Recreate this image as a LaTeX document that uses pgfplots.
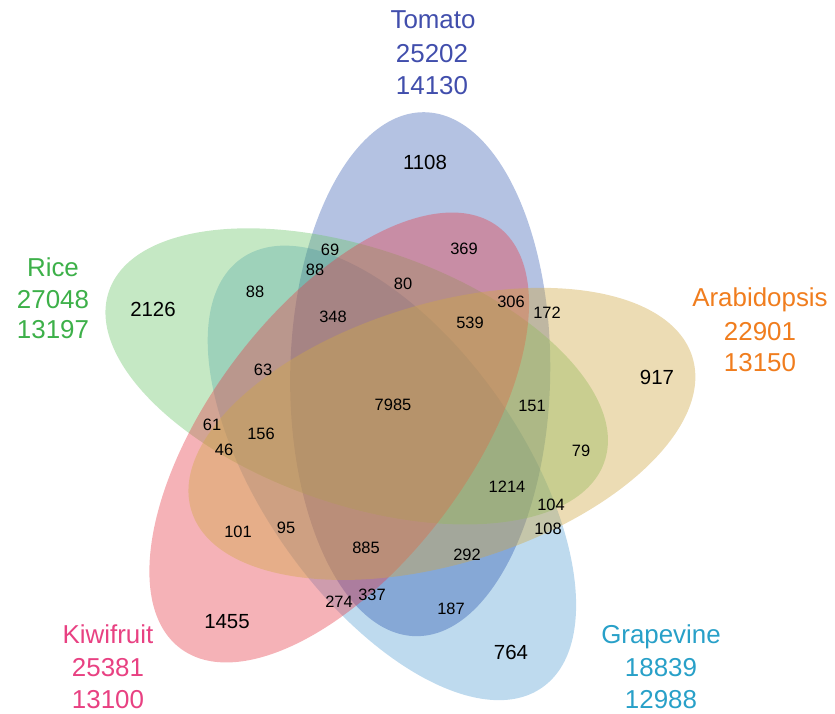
\documentclass[border=0pt]{standalone}
\usepackage{fontspec}
\setmainfont{Liberation Sans}
\usepackage{pgfplots}
\pgfplotsset{compat=1.18}
\usepackage{pgfplotstable}
\definecolor{cT}{RGB}{5,52,158}
\definecolor{cR}{RGB}{110,198,108}
\definecolor{cA}{RGB}{208,168,68}
\definecolor{cK}{RGB}{230,63,75}
\definecolor{cG}{RGB}{93,163,213}
\definecolor{tT}{RGB}{65,78,172}
\definecolor{tR}{RGB}{61,176,73}
\definecolor{tA}{RGB}{240,125,30}
\definecolor{tK}{RGB}{232,65,130}
\definecolor{tG}{RGB}{40,160,200}
\pgfplotstableread{
x y label
464 465 369
330 464 69
315 444 88
255 422 88
403 430 80
333 397 348
511 412 306
547 401 172
470 391 539
263 344 63
393 309 7985
532 308 151
212 289 61
261 280 156
224 264 46
581 263 79
507 227 1214
551 209 104
548 185 108
238 182 101
286 186 95
366 166 885
467 159 292
339 112 274
372 119 337
451 105 187
}\smallnums
\pgfplotstableread{
x y label
425 552 1108
153 405 2126
657 337 917
227 92 1455
511 62 764
}\bignums
\begin{document}
\begin{tikzpicture}
\begin{axis}[scale only axis, width=835bp, height=714bp,
  xmin=0, xmax=835, ymin=0, ymax=714, hide axis, clip=false]
\coordinate (SW) at (axis cs:0,0);
\coordinate (NE) at (axis cs:835,714);
% Grapevine
\fill[cG, fill opacity=0.4, rotate around={-55:(axis cs:391.9,241.1)}] (axis cs:391.9,241.1) ellipse [x radius=262bp, y radius=130bp];
% Tomato
\fill[cT, fill opacity=0.3, rotate around={89:(axis cs:420.2,339.8)}] (axis cs:420.2,339.8) ellipse [x radius=262bp, y radius=130bp];
% Rice
\fill[cR, fill opacity=0.4, rotate around={161:(axis cs:356.7,337.6)}] (axis cs:356.7,337.6) ellipse [x radius=262bp, y radius=128bp];
% Kiwifruit
\fill[cK, fill opacity=0.4, rotate around={233:(axis cs:339.2,276.5)}] (axis cs:339.2,276.5) ellipse [x radius=264bp, y radius=130bp];
% Arabidopsis
\fill[cA, fill opacity=0.4, rotate around={17:(axis cs:441.9,280.1)}] (axis cs:441.9,280.1) ellipse [x radius=262bp, y radius=130bp];

\addplot[draw=none, mark=none, nodes near coords, point meta=explicit symbolic,
  every node near coord/.append style={anchor=center, inner sep=0pt, text=black, font=\fontsize{16.5}{19}\selectfont}]
  table[x=x, y=y, meta=label] {\smallnums};
\addplot[draw=none, mark=none, nodes near coords, point meta=explicit symbolic,
  every node near coord/.append style={anchor=center, inner sep=0pt, text=black, font=\fontsize{20.5}{24}\selectfont}]
  table[x=x, y=y, meta=label] {\bignums};

\begin{scope}[every node/.style={anchor=base, inner sep=0pt, font=\fontsize{26}{30}\selectfont}]
\node[text=tT] at (axis cs:433,685) {Tomato};
\node[text=tT] at (axis cs:432,651) {25202};
\node[text=tT] at (axis cs:432,619) {14130};
\node[text=tR] at (axis cs:53,437) {Rice};
\node[text=tR] at (axis cs:53,405) {27048};
\node[text=tR] at (axis cs:53,375) {13197};
\node[text=tA] at (axis cs:760,407) {Arabidopsis};
\node[text=tA] at (axis cs:760,373) {22901};
\node[text=tA] at (axis cs:760,342) {13150};
\node[text=tK] at (axis cs:108,70) {Kiwifruit};
\node[text=tK] at (axis cs:108,37) {25381};
\node[text=tK] at (axis cs:108,5) {13100};
\node[text=tG] at (axis cs:661,70) {Grapevine};
\node[text=tG] at (axis cs:661,37) {18839};
\node[text=tG] at (axis cs:661,5) {12988};
\end{scope}
\end{axis}
\pgfresetboundingbox
\path (SW) rectangle (NE);
\end{tikzpicture}
\end{document}
